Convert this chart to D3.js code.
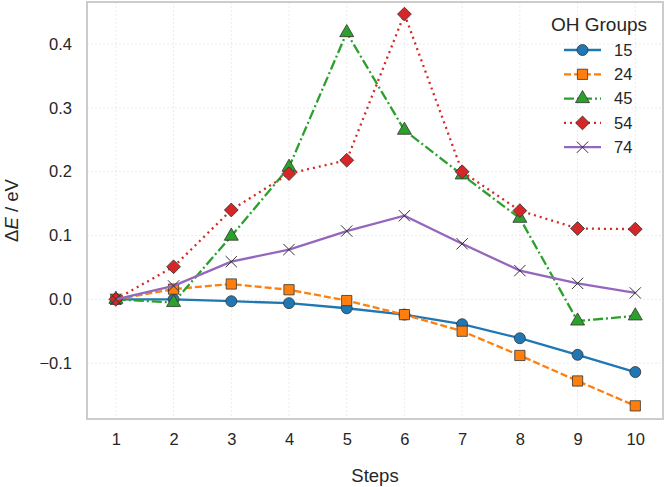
<!DOCTYPE html>
<html>
<head>
<meta charset="utf-8">
<script src="https://cdn.jsdelivr.net/npm/d3@7"></script>
<style>
  body { margin: 0; background: #fff; }
  text { font-family: "Liberation Sans", Arial, sans-serif; fill: #262626; }
</style>
</head>
<body>
<div id="grafica"></div>
<script>
// datos
const steps = [1, 2, 3, 4, 5, 6, 7, 8, 9, 10];
const grupos = ["15", "24", "45", "54", "74"];
const serie15 = [0, 0.0, -0.003, -0.006, -0.014, -0.024, -0.039, -0.061, -0.087, -0.114];
const serie24 = [0, 0.016, 0.024, 0.015, -0.002, -0.024, -0.050, -0.088, -0.128, -0.167];
const serie45 = [0, -0.005, 0.099, 0.207, 0.418, 0.265, 0.195, 0.127, -0.034, -0.026];
const serie54 = [0, 0.051, 0.140, 0.197, 0.218, 0.447, 0.200, 0.139, 0.111, 0.110];
const serie74 = [0, 0.021, 0.059, 0.078, 0.107, 0.131, 0.087, 0.045, 0.025, 0.010];
const yTicks = [-0.1, 0.0, 0.1, 0.2, 0.3, 0.4];

const colores = ["#1f77b4", "#ff7f0e", "#2ca02c", "#d62728", "#9467bd"];
const trazos = [null, "7,3", "10,3,2,3", "2,4", null];
const simbolos = ["circle", "square", "triangle", "diamond", "x"];
const valores = [serie15, serie24, serie45, serie54, serie74];

const width = 666, height = 487;
const margin = {top: 2, right: 3, bottom: 68, left: 87};

const x = d3.scaleLinear().domain([0.5, 10.48]).range([margin.left, width - margin.right]);
const y = d3.scaleLinear().domain([-0.1876, 0.466]).range([height - margin.bottom, margin.top]);

const svg = d3.select("#grafica").append("svg")
    .attr("width", width)
    .attr("height", height);

// rejilla
svg.append("g").selectAll("line").data(steps).enter().append("line")
    .attr("x1", d => x(d)).attr("x2", d => x(d))
    .attr("y1", margin.top).attr("y2", height - margin.bottom)
    .attr("stroke", "#e6e6e6").attr("stroke-width", 0.8).attr("stroke-dasharray", "2,2");
svg.append("g").selectAll("line").data(yTicks).enter().append("line")
    .attr("x1", margin.left).attr("x2", width - margin.right)
    .attr("y1", d => y(d)).attr("y2", d => y(d))
    .attr("stroke", "#e6e6e6").attr("stroke-width", 0.8).attr("stroke-dasharray", "2,2");

// ejes
const xAxis = d3.axisBottom(x).tickValues(steps).tickSize(0).tickPadding(14).tickFormat(d3.format("d"));
const yAxis = d3.axisLeft(y).tickValues(yTicks).tickSize(0).tickPadding(15)
    .tickFormat(d => d3.format(".1f")(d).replace("-", "\u2212"));

svg.append("g")
    .attr("transform", "translate(0," + (height - margin.bottom) + ")")
    .call(xAxis)
    .call(g => g.select(".domain").remove())
    .selectAll("text").style("font-size", "16.5px").attr("dy", "0.71em");

svg.append("g")
    .attr("transform", "translate(" + margin.left + ",0)")
    .call(yAxis)
    .call(g => g.select(".domain").remove())
    .selectAll("text").style("font-size", "16.5px");

// titulos de ejes
svg.append("text")
    .attr("x", (margin.left + width - margin.right) / 2)
    .attr("y", 482)
    .attr("text-anchor", "middle")
    .style("font-size", "18.5px")
    .text("Steps");

const yLabel = svg.append("text")
    .attr("transform", "translate(18," + (height - margin.bottom + margin.top) / 2 + ") rotate(-90)")
    .attr("text-anchor", "middle")
    .style("font-size", "18.5px");
yLabel.append("tspan").text("\u0394");
yLabel.append("tspan").style("font-style", "italic").text("E");
yLabel.append("tspan").text(" / eV");

// simbolos
function dibujaSimbolo(g, tipo, color, cx, cy) {
    const t = "translate(" + cx + "," + cy + ")";
    if (tipo === "x") {
        g.append("path")
            .attr("d", d3.symbol(d3.symbolX, 85)())
            .attr("transform", t)
            .attr("fill", "none").attr("stroke", "#333").attr("stroke-width", 1);
        return;
    }
    if (tipo === "diamond") {
        g.append("path").attr("d", d3.symbol(d3.symbolSquare, 95)())
            .attr("transform", t + " rotate(45)")
            .attr("fill", color).attr("stroke", "#333").attr("stroke-width", 0.8);
        return;
    }
    const tipos = {circle: [d3.symbolCircle, 95], square: [d3.symbolSquare, 105],
                   triangle: [d3.symbolTriangle, 85]};
    g.append("path")
        .attr("d", d3.symbol(tipos[tipo][0], tipos[tipo][1])())
        .attr("transform", t)
        .attr("fill", color).attr("stroke", "#333").attr("stroke-width", 0.8);
}

const linea = d3.line()
    .x((d, i) => x(steps[i]))
    .y(d => y(d));

grupos.forEach(function(gr, k) {
    svg.append("path")
        .datum(valores[k])
        .attr("d", linea)
        .attr("fill", "none")
        .attr("stroke", colores[k])
        .attr("stroke-width", 2.3)
        .attr("stroke-dasharray", trazos[k]);
    const g = svg.append("g");
    valores[k].forEach(function(v, i) {
        dibujaSimbolo(g, simbolos[k], colores[k], x(steps[i]), y(v));
    });
});

// marco
svg.append("rect")
    .attr("x", margin.left).attr("y", margin.top)
    .attr("width", width - margin.left - margin.right)
    .attr("height", height - margin.top - margin.bottom)
    .attr("fill", "none").attr("stroke", "#cccccc").attr("stroke-width", 2);

// leyenda
const leyenda = svg.append("g");
leyenda.append("text")
    .attr("x", 599).attr("y", 31)
    .attr("text-anchor", "middle")
    .style("font-size", "19px")
    .text("OH Groups");

grupos.forEach(function(gr, k) {
    const cy = 50 + k * 24.3;
    leyenda.append("line")
        .attr("x1", 564).attr("x2", 601)
        .attr("y1", cy).attr("y2", cy)
        .attr("stroke", colores[k]).attr("stroke-width", 2.3)
        .attr("stroke-dasharray", trazos[k]);
    dibujaSimbolo(leyenda, simbolos[k], colores[k], 582.5, cy);
    leyenda.append("text")
        .attr("x", 614).attr("y", cy)
        .attr("dy", "0.35em")
        .style("font-size", "16.5px")
        .text(gr);
});
</script>
</body>
</html>
